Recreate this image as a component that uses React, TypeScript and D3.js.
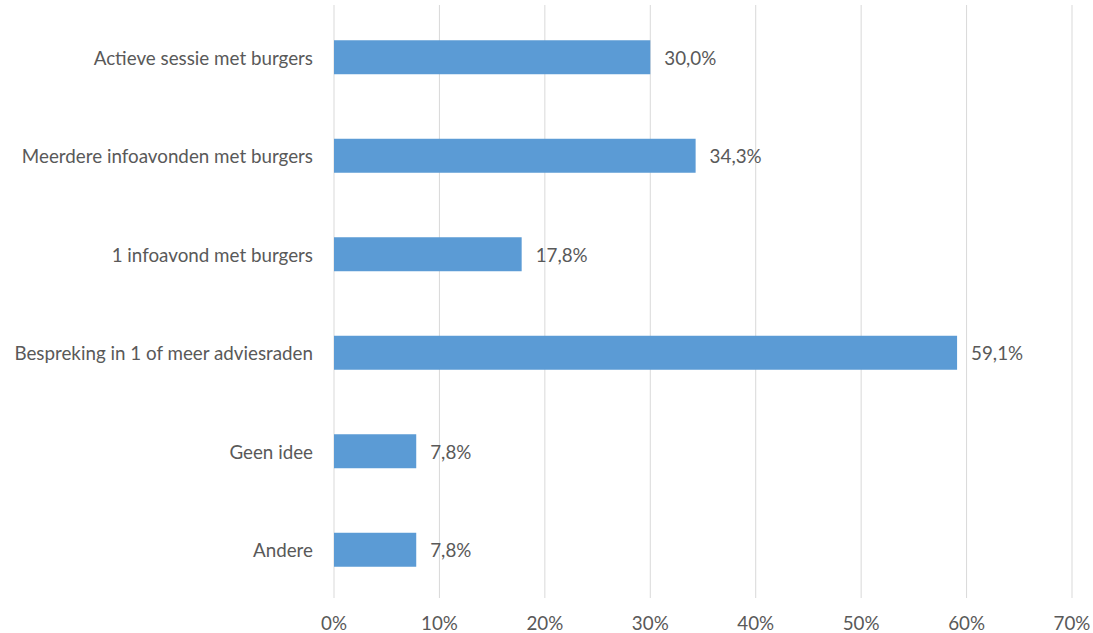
import React from 'react';
import * as d3 from 'd3';

const categories = [
  'Actieve sessie met burgers',
  'Meerdere infoavonden met burgers',
  '1 infoavond met burgers',
  'Bespreking in 1 of meer adviesraden',
  'Geen idee',
  'Andere',
];
const values = [30.0, 34.3, 17.8, 59.1, 7.8, 7.8];
const ticks = [0, 10, 20, 30, 40, 50, 60, 70];

const width = 1093;
const height = 633;
const fontFamily = "Lato, 'Open Sans', sans-serif";
const fontSize = 18.8;
const textColor = '#595959';

const fmt = (v: number) => v.toFixed(1).replace('.', ',') + '%';

const App: React.FC = () => {
  const x = d3.scaleLinear().domain([0, 70]).range([334, 1072]);
  const y = d3.scaleBand<string>()
    .domain(categories)
    .range([8, 599])
    .paddingInner(0.655)
    .paddingOuter(0.3275);

  return (
    <svg width={width} height={height} style={{ position: 'absolute', left: 0, top: 0 }}>
      <rect width={width} height={height} fill="#fff" />
      {ticks.map(t => (
        <line key={t} x1={x(t)} x2={x(t)} y1={5} y2={598} stroke="#d9d9d9" strokeWidth={1} />
      ))}
      {categories.map((c, i) => (
        <g key={c}>
          <rect
            x={x(0)}
            y={y(c)}
            width={x(values[i]) - x(0)}
            height={y.bandwidth()}
            fill="#5b9bd5"
          />
          <text
            x={313}
            y={(y(c) ?? 0) + y.bandwidth() / 2}
            textAnchor="end"
            dominantBaseline="central"
            fontFamily={fontFamily}
            fontSize={fontSize}
            fill={textColor}
          >
            {c}
          </text>
          <text
            x={x(values[i]) + 14}
            y={(y(c) ?? 0) + y.bandwidth() / 2}
            dominantBaseline="central"
            fontFamily={fontFamily}
            fontSize={fontSize}
            fill={textColor}
          >
            {fmt(values[i])}
          </text>
        </g>
      ))}
      {ticks.map(t => (
        <text
          key={t}
          x={x(t)}
          y={622}
          textAnchor="middle"
          dominantBaseline="central"
          fontFamily={fontFamily}
          fontSize={fontSize}
          fill={textColor}
        >
          {t + '%'}
        </text>
      ))}
    </svg>
  );
};

export default App;
